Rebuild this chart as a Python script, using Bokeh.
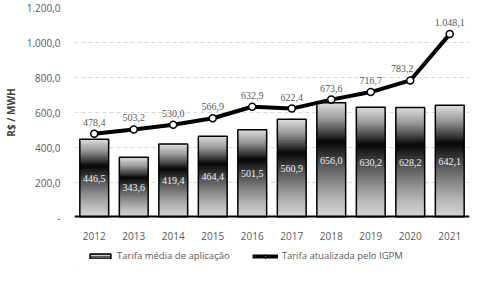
import numpy as np
from bokeh.plotting import figure
from bokeh.layouts import column
from bokeh.models import (ColumnDataSource, FactorRange, FixedTicker, Span,
                          LabelSet, Legend, LegendItem)
from bokeh.embed import file_html
from bokeh.resources import INLINE

# ---- data ----
years = ["2012", "2013", "2014", "2015", "2016", "2017", "2018", "2019", "2020", "2021"]
tarifa_media = [446.5, 343.6, 419.4, 464.4, 501.5, 560.9, 656.0, 630.2, 628.2, 642.1]
tarifa_igpm = [478.4, 503.2, 530.0, 566.9, 632.9, 622.4, 673.6, 716.7, 783.2, 1048.1]
y_ticks = [0, 200, 400, 600, 800, 1000, 1200]
y_tick_labels = ["-", "200,0", "400,0", "600,0", "800,0", "1.000,0", "1.200,0"]
series_names = ["Tarifa média de aplicação", "Tarifa atualizada pelo IGPM"]
y_axis_title = "R$ / MWH"

# styling
FONT = "Open Sans"
GRAY_TXT = "#595959"
BAR_W = 0.73
label_dx = [0, 0, 0, 0, 0, 0, 0, 0, -8, 0]


def br(v):
    s = f"{v:,.1f}"
    return s.replace(",", "X").replace(".", ",").replace("X", ".")


p = figure(x_range=FactorRange(*years, range_padding=0), y_range=(0, 1200),
           width=477, height=243, output_backend="svg", toolbar_location=None,
           min_border_left=72, min_border_right=8, min_border_top=7,
           min_border_bottom=26)
p.outline_line_color = None
p.background_fill_color = "white"
p.border_fill_color = "white"

# grid
p.xgrid.grid_line_color = None
p.ygrid.grid_line_color = "#d9d9d9"
p.ygrid.grid_line_dash = "4 3"
p.ygrid.grid_line_width = 1

# axes
p.yaxis.ticker = FixedTicker(ticks=y_ticks)
p.yaxis.major_label_overrides = {t: l for t, l in zip(y_ticks, y_tick_labels)}
for ax in (p.xaxis[0], p.yaxis[0]):
    ax.axis_line_color = None
    ax.major_tick_line_color = None
    ax.minor_tick_line_color = None
    ax.major_label_text_font = FONT
    ax.major_label_text_font_size = "10px"
    ax.major_label_text_color = GRAY_TXT
    ax.major_label_standoff = 8
p.yaxis.axis_label = y_axis_title
p.yaxis.axis_label_text_font = FONT
p.yaxis.axis_label_text_font_size = "10px"
p.yaxis.axis_label_text_font_style = "bold"
p.yaxis.axis_label_text_color = "#404040"
p.yaxis.axis_label_standoff = 6

# gradient slices (each bar split into bands from its own value)
src_bar = ColumnDataSource(dict(x=years, top=tarifa_media))
N = 50
stops_f = [0.0, 0.15, 0.3, 0.45, 0.6, 0.66, 0.73, 0.86, 1.0]
stops_c = [215, 185, 140, 90, 30, 5, 60, 155, 222]
xs, bots, tops, cols = [], [], [], []
for yr, v in zip(years, tarifa_media):
    for j in range(N):
        f = (j + 0.5) / N
        g = int(np.interp(f, stops_f, stops_c))
        xs.append(yr)
        bots.append(v * j / N)
        tops.append(v * min(j + 1.8, N) / N)
        cols.append("#%02x%02x%02x" % (g, g, g))
p.vbar(x=xs, bottom=bots, top=tops, width=BAR_W, fill_color=cols, line_color=None)
# outlines
p.vbar(x="x", top="top", width=BAR_W, source=src_bar, fill_color=None,
       line_color="black", line_width=1.5)

# baseline
p.add_layout(Span(location=0, dimension="width", line_color="black", line_width=4))

# bar labels
src_bl = ColumnDataSource(dict(x=years, y=[v / 2 for v in tarifa_media],
                               t=[br(v) for v in tarifa_media]))
p.add_layout(LabelSet(x="x", y="y", text="t", source=src_bl, text_align="center",
                      text_baseline="middle", text_font=FONT, text_font_size="10px",
                      text_color="#f2f2f2"))

# line
src_line = ColumnDataSource(dict(x=years, y=tarifa_igpm, t=[br(v) for v in tarifa_igpm],
                                 dx=label_dx))
p.line(x="x", y="y", source=src_line, line_color="black", line_width=4)
p.scatter(x="x", y="y", source=src_line, size=7, fill_color="white",
          line_color="black", line_width=1.5)
p.add_layout(LabelSet(x="x", y="y", text="t", source=src_line, x_offset="dx",
                      y_offset=8, text_align="center", text_baseline="bottom",
                      text_font=FONT, text_font_size="10px", text_color=GRAY_TXT))

# ---- legend strip (separate figure below) ----
lg = figure(width=477, height=25, output_backend="svg", toolbar_location=None,
            x_axis_location=None, y_axis_location=None,
            min_border_left=72, min_border_right=8, min_border_top=0,
            min_border_bottom=0, x_range=(0, 1), y_range=(0, 1))
lg.outline_line_color = None
lg.xgrid.grid_line_color = None
lg.ygrid.grid_line_color = None
# off-screen proxies used only to draw the legend swatches
proxy = ColumnDataSource(dict(x=[-5, -4], y=[-5, -4]))
r_bar = lg.vbar(x="x", top="y", width=0.1, source=proxy, fill_color="#595959",
                line_color="black", line_width=1.5, hatch_pattern="horizontal_line",
                hatch_color="#d0d0d0", hatch_scale=3, hatch_weight=1)
r_ln = lg.line(x="x", y="y", source=proxy, line_color="black", line_width=4)
r_mk = lg.scatter(x="x", y="y", source=proxy, size=7, fill_color="white",
                  line_color="black", line_width=1.5)
legend = Legend(items=[LegendItem(label=series_names[0], renderers=[r_bar], index=0),
                       LegendItem(label=series_names[1], renderers=[r_ln, r_mk], index=0)],
                orientation="horizontal", location=(13, 6), padding=0, margin=0,
                spacing=22, label_standoff=4, glyph_width=26, glyph_height=6,
                label_height=12, label_text_font=FONT, label_text_font_size="9.5px",
                label_text_color=GRAY_TXT, background_fill_alpha=0,
                border_line_color=None)
lg.add_layout(legend, "center")

layout = column(p, lg, spacing=0)
open("out.html", "w").write(file_html(layout, INLINE))
